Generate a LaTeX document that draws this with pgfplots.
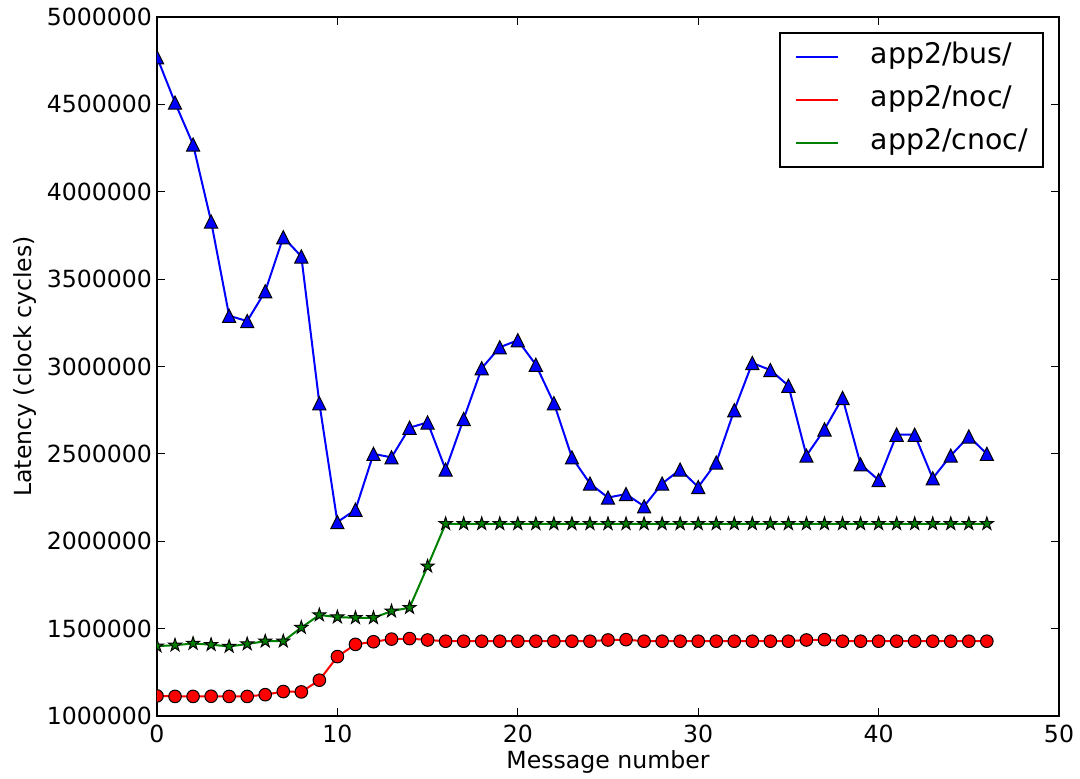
\documentclass[border=0pt]{standalone}
\usepackage{pgfplots}
\pgfplotsset{compat=1.18}
\usepackage{fontspec}
\setmainfont{DejaVu Sans}
\definecolor{mplgreen}{rgb}{0,0.5,0}
\pgfdeclareplotmark{mpltri}{%
  \pgfpathmoveto{\pgfqpoint{0pt}{\pgfplotmarksize}}%
  \pgfpathlineto{\pgfqpoint{-\pgfplotmarksize}{-\pgfplotmarksize}}%
  \pgfpathlineto{\pgfqpoint{\pgfplotmarksize}{-\pgfplotmarksize}}%
  \pgfpathclose
  \pgfusepathqfillstroke}
\pgfdeclareplotmark{mplstar}{%
  \pgfpathmoveto{\pgfqpointpolar{90}{\pgfplotmarksize}}%
  \pgfpathlineto{\pgfqpointpolar{126}{0.382\pgfplotmarksize}}%
  \pgfpathlineto{\pgfqpointpolar{162}{\pgfplotmarksize}}%
  \pgfpathlineto{\pgfqpointpolar{198}{0.382\pgfplotmarksize}}%
  \pgfpathlineto{\pgfqpointpolar{234}{\pgfplotmarksize}}%
  \pgfpathlineto{\pgfqpointpolar{270}{0.382\pgfplotmarksize}}%
  \pgfpathlineto{\pgfqpointpolar{306}{\pgfplotmarksize}}%
  \pgfpathlineto{\pgfqpointpolar{342}{0.382\pgfplotmarksize}}%
  \pgfpathlineto{\pgfqpointpolar{18}{\pgfplotmarksize}}%
  \pgfpathlineto{\pgfqpointpolar{54}{0.382\pgfplotmarksize}}%
  \pgfpathclose
  \pgfusepathqfillstroke}
\begin{document}
\begin{tikzpicture}
\path[use as bounding box] (-78.5pt,-31pt) rectangle (461.5pt,358pt);
\begin{axis}[
  at={(0,0)}, anchor=south west,
  scale only axis, width=451pt, height=349.5pt,
  xmin=0, xmax=50, ymin=1000000, ymax=5000000,
  xtick={0,10,20,30,40,50},
  ytick={1000000,1500000,2000000,2500000,3000000,3500000,4000000,4500000,5000000},
  scaled y ticks=false,
  /pgf/number format/assume math mode=true,
  yticklabel style={/pgf/number format/fixed,/pgf/number format/1000 sep={},/pgf/number format/precision=0},
  tick label style={font=\fontsize{11.8}{14}\selectfont},
  label style={font=\fontsize{11.8}{14}\selectfont},
  xticklabel style={yshift=-1pt},
  yticklabel style={xshift=1pt},
  tick align=inside, major tick length=4pt,
  axis line style={line width=0.9pt},
  every tick/.style={black, line width=0.6pt},
  xlabel={Message number},
  ylabel={Latency (clock cycles)},
  xlabel style={yshift=3pt},
  ylabel style={yshift=-1.5pt},
  clip marker paths=true,
  legend cell align=left,
  legend image code/.code={\draw[#1] (0pt,0pt) -- (21pt,0pt);},
  legend style={
    at={(1,1)}, anchor=north east, xshift=-7.5pt, yshift=-7.5pt,
    font=\fontsize{14.2}{17}\selectfont,
    draw=black, line width=0.9pt,
    inner xsep=7.5pt, inner ysep=5pt,
    nodes={inner sep=0pt, text height=10.5pt, text depth=3.5pt},
    row sep=7.5pt,
    /tikz/every odd column/.append style={column sep=16pt},
  },
]
\addplot[blue, line width=1pt, mark=mpltri, mark size=3.3pt,
  mark options={fill=blue, draw=black, line width=0.5pt}] coordinates {
(0,4770000) (1,4510000) (2,4270000) (3,3830000) (4,3290000) (5,3260000)
(6,3430000) (7,3740000) (8,3630000) (9,2790000) (10,2110000) (11,2180000)
(12,2500000) (13,2480000) (14,2650000) (15,2680000) (16,2410000) (17,2700000)
(18,2990000) (19,3110000) (20,3150000) (21,3010000) (22,2790000) (23,2480000)
(24,2330000) (25,2250000) (26,2270000) (27,2200000) (28,2330000) (29,2410000)
(30,2310000) (31,2450000) (32,2750000) (33,3020000) (34,2980000) (35,2890000)
(36,2490000) (37,2640000) (38,2820000) (39,2440000) (40,2350000) (41,2610000)
(42,2610000) (43,2360000) (44,2490000) (45,2600000) (46,2500000)
};
\addlegendentry{app2/bus/}
\addplot[red, line width=1pt, mark=*, mark size=3.15pt,
  mark options={fill=red, draw=black, line width=0.5pt}] coordinates {
(0,1115000) (1,1112000) (2,1112000) (3,1113000) (4,1112000) (5,1112000)
(6,1122000) (7,1140000) (8,1138000) (9,1205000) (10,1340000) (11,1410000)
(12,1425000) (13,1440000) (14,1443000) (15,1435000) (16,1428000) (17,1428000)
(18,1428000) (19,1428000) (20,1428000) (21,1428000) (22,1428000) (23,1428000)
(24,1428000) (25,1435000) (26,1437000) (27,1428000) (28,1428000) (29,1428000)
(30,1428000) (31,1428000) (32,1428000) (33,1428000) (34,1428000) (35,1428000)
(36,1435000) (37,1437000) (38,1428000) (39,1428000) (40,1428000) (41,1428000)
(42,1428000) (43,1428000) (44,1428000) (45,1428000) (46,1428000)
};
\addlegendentry{app2/noc/}
\addplot[mplgreen, line width=1pt, mark=mplstar, mark size=3.4pt,
  mark options={fill=mplgreen, draw=black, line width=0.5pt}] coordinates {
(0,1400000) (1,1405000) (2,1415000) (3,1408000) (4,1398000) (5,1412000)
(6,1428000) (7,1428000) (8,1506000) (9,1578000) (10,1566000) (11,1562000)
(12,1562000) (13,1600000) (14,1620000) (15,1857000) (16,2100000) (17,2100000)
(18,2100000) (19,2100000) (20,2100000) (21,2100000) (22,2100000) (23,2100000)
(24,2100000) (25,2100000) (26,2100000) (27,2100000) (28,2100000) (29,2100000)
(30,2100000) (31,2100000) (32,2100000) (33,2100000) (34,2100000) (35,2100000)
(36,2100000) (37,2100000) (38,2100000) (39,2100000) (40,2100000) (41,2100000)
(42,2100000) (43,2100000) (44,2100000) (45,2100000) (46,2100000)
};
\addlegendentry{app2/cnoc/}
\end{axis}
\end{tikzpicture}
\end{document}
